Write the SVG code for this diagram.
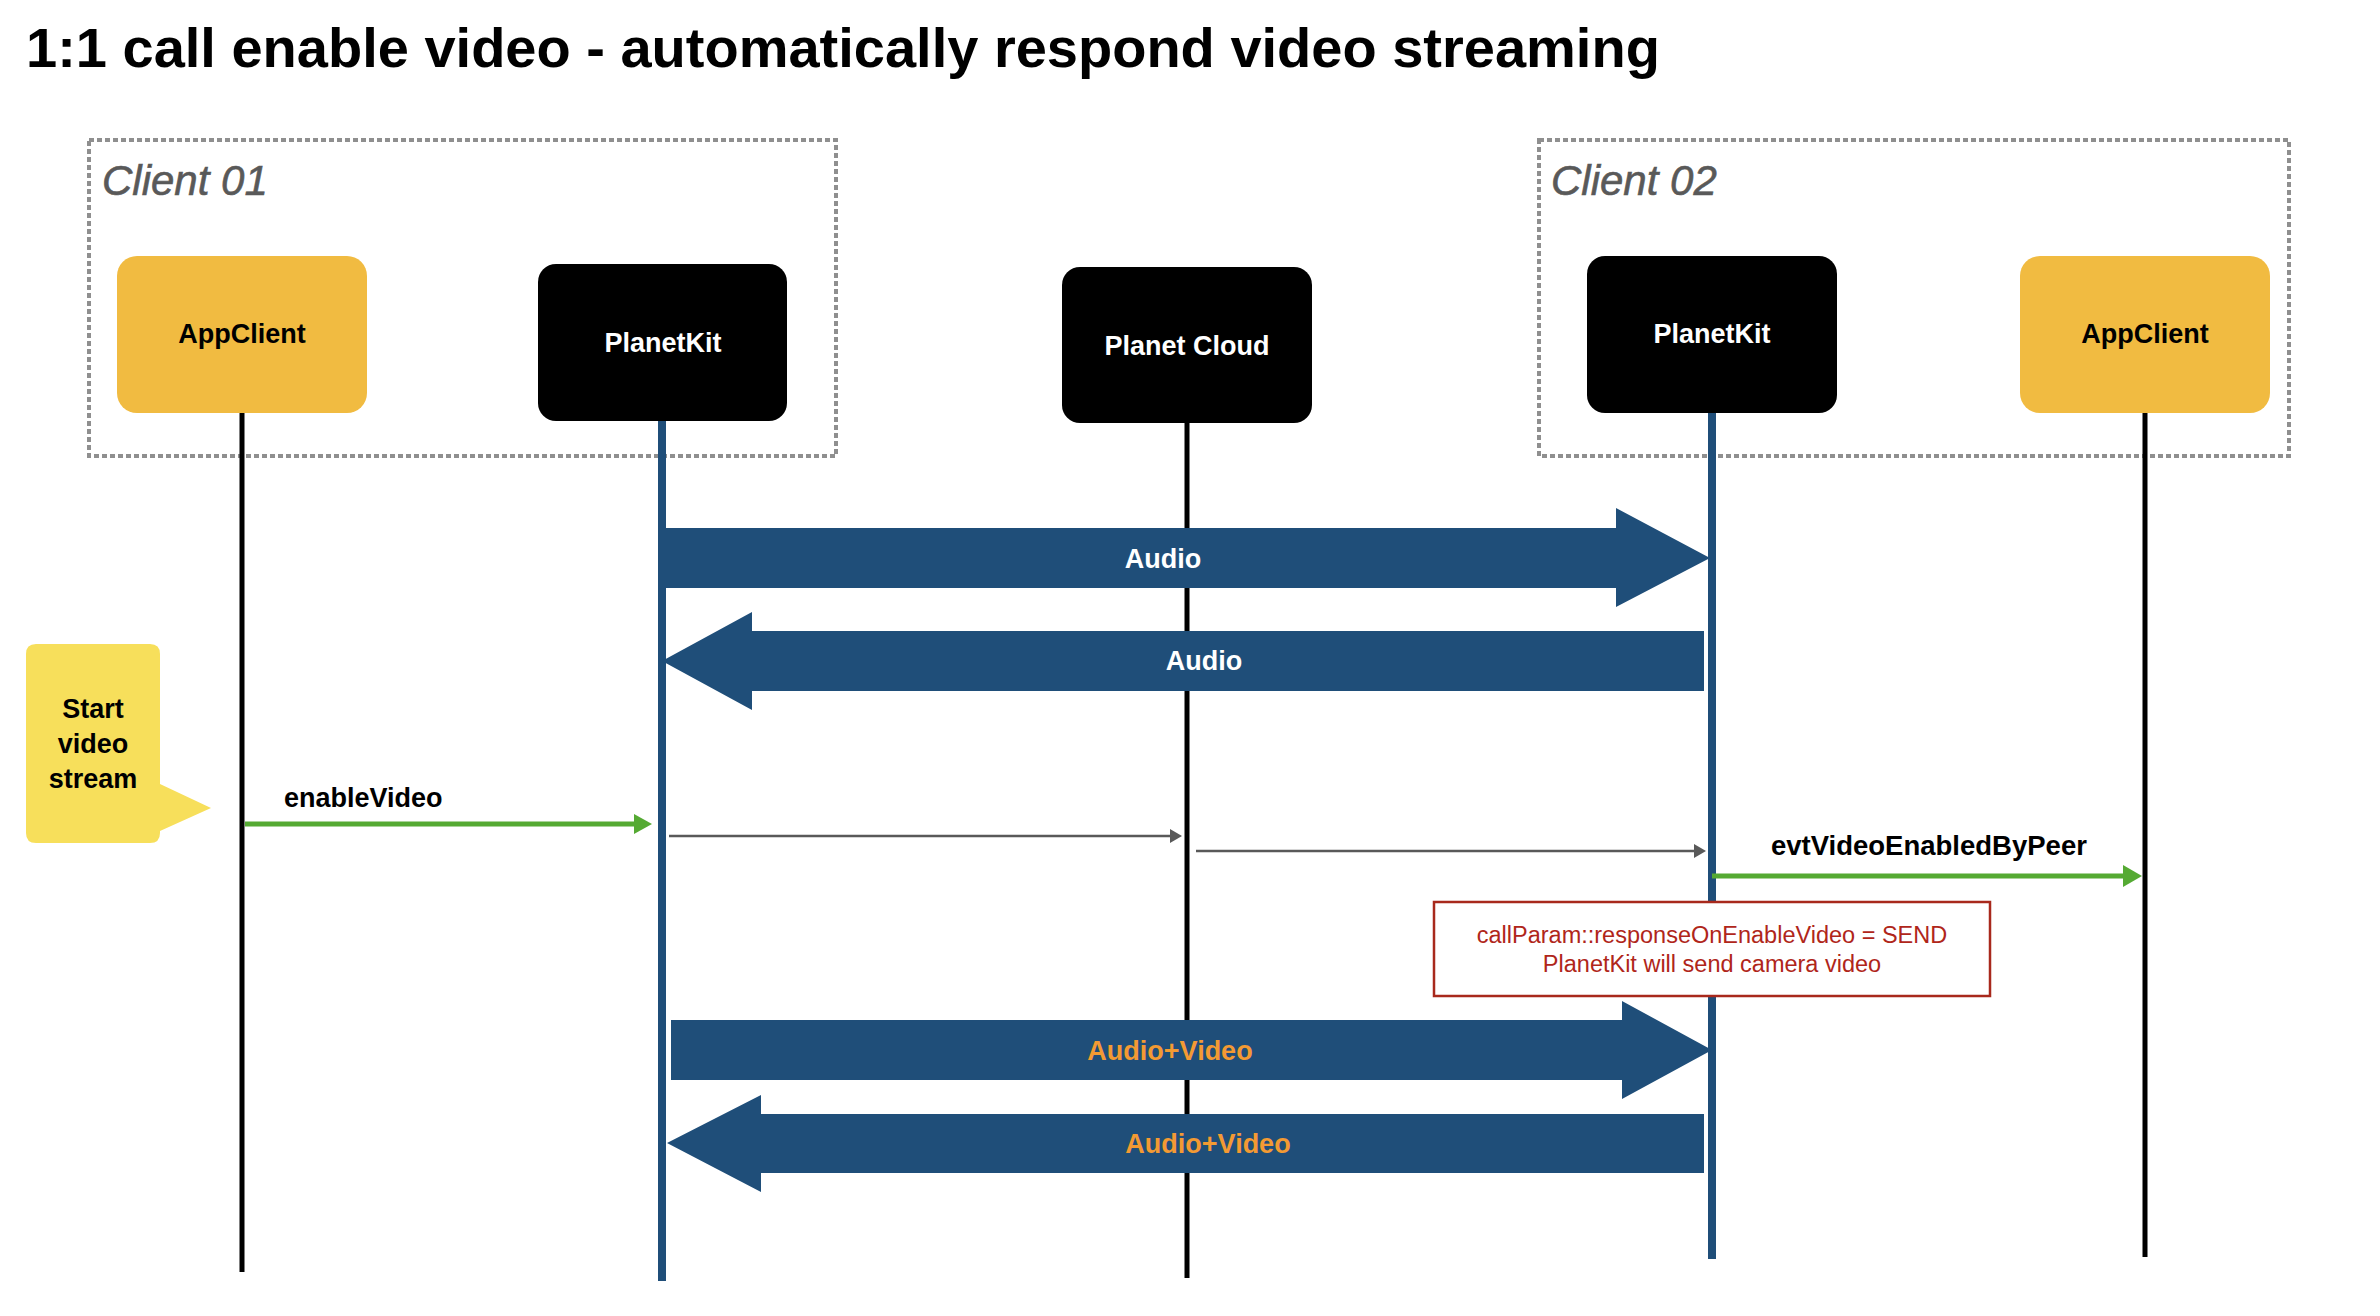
<svg xmlns="http://www.w3.org/2000/svg" width="2380" height="1316" viewBox="0 0 2380 1316">
<style>
.t{font-family:"Liberation Sans",Arial,Helvetica,sans-serif;}
.b{font-weight:bold;}
.grp{fill:none;stroke:#8f8f8f;stroke-width:4;stroke-dasharray:5 3;}
.grpt{font-family:"Liberation Sans",Arial,sans-serif;font-style:italic;font-size:42px;fill:#595959;stroke:#595959;stroke-width:0.6;}
.app{fill:#F1BB41;}
.kit{fill:#000;}
.lbl{font-family:"Liberation Sans",Arial,sans-serif;font-weight:bold;font-size:27px;text-anchor:middle;}
.lifeB{stroke:#000;stroke-width:5;fill:none;}
.lifeK{stroke:#1F4E79;stroke-width:8;fill:none;}
.big{fill:#1F4E79;}
.aw{fill:#fff;}
.av{fill:#F39A33;}
.green{stroke:#55AA33;stroke-width:5;fill:none;}
.gh{fill:#55AA33;}
.thin{stroke:#595959;stroke-width:2.5;fill:none;}
.th{fill:#595959;}
</style>
<rect width="2380" height="1316" fill="#fff"/>
<text class="t b" x="26" y="67" font-size="56" fill="#000">1:1 call enable video - automatically respond video streaming</text>

<g id="client01">
<rect class="grp" x="89" y="140" width="747" height="316"/>
<text class="grpt" x="102" y="195">Client 01</text>
</g>
<g id="client02">
<rect class="grp" x="1539" y="140" width="750" height="316"/>
<text class="grpt" x="1551" y="195">Client 02</text>
</g>

<g id="lifelines">
<line class="lifeB" x1="242" y1="412" x2="242" y2="1272"/>
<line class="lifeK" x1="662" y1="420" x2="662" y2="1281"/>
<line class="lifeB" x1="1187" y1="422" x2="1187" y2="1278"/>
<line class="lifeK" x1="1712" y1="412" x2="1712" y2="1259"/>
<line class="lifeB" x1="2145" y1="412" x2="2145" y2="1257"/>
</g>

<g id="appclient1">
<rect class="app" x="117" y="256" width="250" height="157" rx="20"/>
<text class="lbl" x="242" y="343" fill="#000">AppClient</text>
</g>
<g id="planetkit1">
<rect class="kit" x="538" y="264" width="249" height="157" rx="18"/>
<text class="lbl" x="663" y="352" fill="#fff">PlanetKit</text>
</g>
<g id="planetcloud">
<rect class="kit" x="1062" y="267" width="250" height="156" rx="18"/>
<text class="lbl" x="1187" y="355" fill="#fff">Planet Cloud</text>
</g>
<g id="planetkit2">
<rect class="kit" x="1587" y="256" width="250" height="157" rx="18"/>
<text class="lbl" x="1712" y="343" fill="#fff">PlanetKit</text>
</g>
<g id="appclient2">
<rect class="app" x="2020" y="256" width="250" height="157" rx="20"/>
<text class="lbl" x="2145" y="343" fill="#000">AppClient</text>
</g>

<g id="note-start">
<path d="M36,644 H150 Q160,644 160,654 V784 L211,808 L160,831 V833 Q160,843 150,843 H36 Q26,843 26,833 V654 Q26,644 36,644 Z" fill="#F7DF5B"/>
<text class="lbl" x="93" y="718" fill="#000">Start</text>
<text class="lbl" x="93" y="753" fill="#000">video</text>
<text class="lbl" x="93" y="788" fill="#000">stream</text>
</g>

<g id="connectors">
<polygon class="big" points="662,528 1616,528 1616,508 1710,558 1616,607 1616,588 662,588"/>
<text class="lbl aw" x="1163" y="568">Audio</text>
<polygon class="big" points="662,661 752,612 752,631 1704,631 1704,691 752,691 752,710"/>
<text class="lbl aw" x="1204" y="670">Audio</text>

<line class="green" x1="245" y1="824" x2="636" y2="824"/>
<polygon class="gh" points="634,814 652,824 634,834"/>
<text class="t b" x="284" y="807" font-size="27" fill="#000">enableVideo</text>

<line class="thin" x1="669" y1="836" x2="1172" y2="836"/>
<polygon class="th" points="1170,829 1182,836 1170,843"/>
<line class="thin" x1="1196" y1="851" x2="1696" y2="851"/>
<polygon class="th" points="1694,844 1706,851 1694,858"/>

<line class="green" x1="1712" y1="876" x2="2126" y2="876"/>
<polygon class="gh" points="2123,865 2142,876 2123,887"/>
<text class="t b" x="1771" y="855" font-size="27.5" fill="#000">evtVideoEnabledByPeer</text>

<polygon class="big" points="671,1020 1622,1020 1622,1001 1712,1050 1622,1099 1622,1080 671,1080"/>
<text class="lbl av" x="1170" y="1060">Audio+Video</text>
<polygon class="big" points="667,1143 761,1095 761,1114 1704,1114 1704,1173 761,1173 761,1192"/>
<text class="lbl av" x="1208" y="1153">Audio+Video</text>
</g>

<g id="note-response">
<rect x="1434" y="902" width="556" height="94" fill="#fff" stroke="#A8291C" stroke-width="2.5"/>
<text class="t" x="1712" y="943" font-size="23.5" fill="#B0261A" text-anchor="middle">callParam::responseOnEnableVideo = SEND</text>
<text class="t" x="1712" y="972" font-size="23.5" fill="#B0261A" text-anchor="middle">PlanetKit will send camera video</text>
</g>
</svg>
